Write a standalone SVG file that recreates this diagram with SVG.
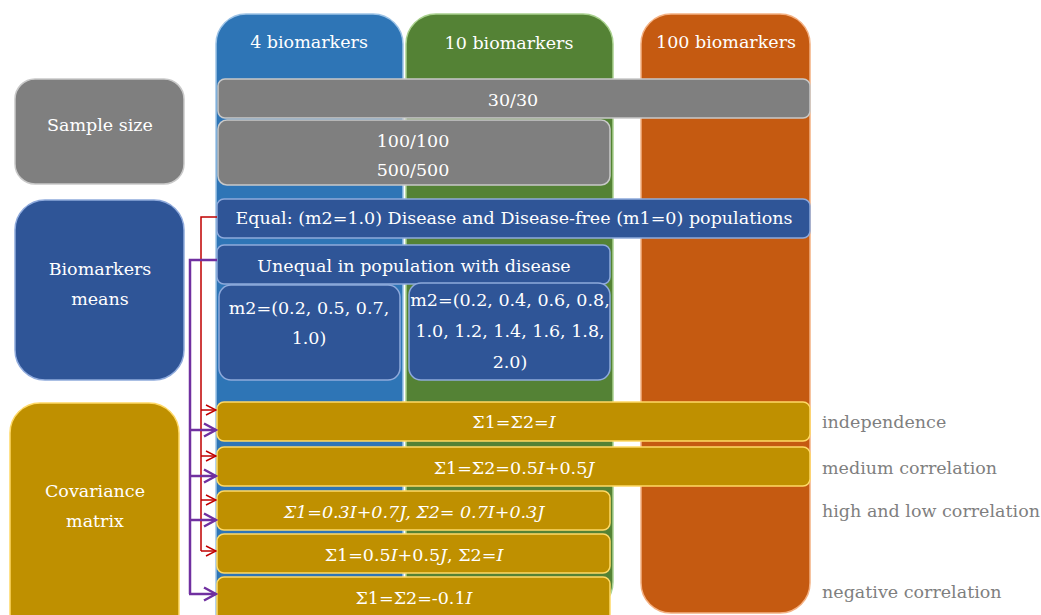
<svg xmlns="http://www.w3.org/2000/svg" width="1041" height="615" viewBox="0 0 1041 615">
<style>
text{font-family:"DejaVu Serif","Liberation Serif",serif;font-size:17.5px;fill:#ffffff;text-anchor:middle}
.lbl{fill:#7f7f7f;text-anchor:start}
.gray{fill:#7f7f7f;stroke:#c9c9c9;stroke-width:1.5}
.blue{fill:#2f5597;stroke:#8faadc;stroke-width:1.5}
.gold{fill:#bf9000;stroke:#ffd966;stroke-width:1.5}
.it{font-style:italic}
.red{fill:none;stroke:#c00000;stroke-width:1.5}
.pur{fill:none;stroke:#7030a0;stroke-width:2.5}
</style>
<defs>
<marker id="ar" markerUnits="userSpaceOnUse" viewBox="0 0 12 12" markerWidth="12" markerHeight="12" refX="11" refY="6" orient="auto">
<path d="M1,1 L11,6 L1,11" fill="none" stroke="#c00000" stroke-width="1.5"/>
</marker>
<marker id="ap" markerUnits="userSpaceOnUse" viewBox="0 0 16 16" markerWidth="16" markerHeight="16" refX="14" refY="8" orient="auto">
<path d="M2,1.5 L14,8 L2,14.5" fill="none" stroke="#7030a0" stroke-width="2.5"/>
</marker>
</defs>
<g id="col-4">
<rect x="216" y="14" width="187" height="630" rx="30" fill="#2e75b6" stroke="#9dc3e6" stroke-width="1.5"/>
<text x="309" y="48">4 biomarkers</text>
</g>
<g id="col-10">
<rect x="406" y="14" width="207" height="598" rx="30" fill="#548235" stroke="#a9d18e" stroke-width="1.5"/>
<text x="509" y="49">10 biomarkers</text>
</g>
<g id="col-100">
<rect x="641" y="14" width="169" height="599" rx="30" fill="#c55a11" stroke="#f4b183" stroke-width="1.5"/>
<text x="726" y="48">100 biomarkers</text>
</g>
<g id="sample-size">
<rect class="gray" x="15" y="79" width="169" height="105" rx="20"/>
<text x="100" y="131">Sample size</text>
</g>
<g id="n30">
<rect class="gray" x="218" y="79" width="592" height="39" rx="7"/>
<text x="513" y="106">30/30</text>
</g>
<g id="n100-500">
<rect class="gray" x="218" y="120" width="392" height="65" rx="9"/>
<text x="413" y="147">100/100</text>
<text x="413" y="176">500/500</text>
</g>
<g id="biomarkers-means">
<rect class="blue" x="15" y="200" width="169" height="180" rx="30"/>
<text x="100" y="275">Biomarkers</text>
<text x="100" y="305">means</text>
</g>
<g id="equal">
<rect class="blue" x="217" y="199" width="593" height="39" rx="7"/>
<text x="514" y="224">Equal: (m2=1.0) Disease and Disease-free (m1=0) populations</text>
</g>
<g id="unequal">
<rect class="blue" x="217" y="245" width="393" height="39" rx="7"/>
<text x="414" y="272">Unequal in population with disease</text>
</g>
<g id="m2-4">
<rect class="blue" x="219" y="285" width="181" height="95" rx="12"/>
<text x="309" y="314">m2=(0.2, 0.5, 0.7,</text>
<text x="309" y="344">1.0)</text>
</g>
<g id="m2-10">
<rect class="blue" x="409" y="283" width="201" height="97" rx="12"/>
<text x="510" y="306">m2=(0.2, 0.4, 0.6, 0.8,</text>
<text x="510" y="337">1.0, 1.2, 1.4, 1.6, 1.8,</text>
<text x="510" y="368">2.0)</text>
</g>
<g id="covariance-matrix">
<rect class="gold" x="10" y="403" width="169" height="240" rx="30"/>
<text x="95" y="497">Covariance</text>
<text x="95" y="527">matrix</text>
</g>
<g id="cov1">
<rect class="gold" x="217" y="402" width="593" height="39" rx="7"/>
<text x="514" y="428">Σ1=Σ2=<tspan class="it">I</tspan></text>
</g>
<g id="cov2">
<rect class="gold" x="217" y="447" width="593" height="39" rx="7"/>
<text x="514" y="474">Σ1=Σ2=0.5<tspan class="it">I</tspan>+0.5<tspan class="it">J</tspan></text>
</g>
<g id="cov3">
<rect class="gold" x="217" y="491" width="393" height="39" rx="7"/>
<text x="414" y="518"><tspan class="it">Σ1=0.3I+0.7J, Σ2= 0.7I+0.3J</tspan></text>
</g>
<g id="cov4">
<rect class="gold" x="217" y="534" width="393" height="39" rx="7"/>
<text x="414" y="561">Σ1=0.5<tspan class="it">I</tspan>+0.5<tspan class="it">J</tspan>, Σ2=<tspan class="it">I</tspan></text>
</g>
<g id="cov5">
<rect class="gold" x="217" y="577" width="393" height="50" rx="7"/>
<text x="414" y="604">Σ1=Σ2=-0.1<tspan class="it">I</tspan></text>
</g>
<g id="labels">
<text class="lbl" x="822" y="428">independence</text>
<text class="lbl" x="822" y="474">medium correlation</text>
<text class="lbl" x="822" y="517">high and low correlation</text>
<text class="lbl" x="822" y="598">negative correlation</text>
</g>
<g id="connectors">
<path class="red" d="M217,217 H201 V551"/>
<path class="red" d="M201,410 H216" marker-end="url(#ar)"/>
<path class="red" d="M201,456 H216" marker-end="url(#ar)"/>
<path class="red" d="M201,500 H216" marker-end="url(#ar)"/>
<path class="red" d="M201,551 H216" marker-end="url(#ar)"/>
<path class="pur" d="M217,260 H190 V594"/>
<path class="pur" d="M190,430 H216" marker-end="url(#ap)"/>
<path class="pur" d="M190,476 H216" marker-end="url(#ap)"/>
<path class="pur" d="M190,520 H216" marker-end="url(#ap)"/>
<path class="pur" d="M189,594 H216" marker-end="url(#ap)"/>
</g>
</svg>
